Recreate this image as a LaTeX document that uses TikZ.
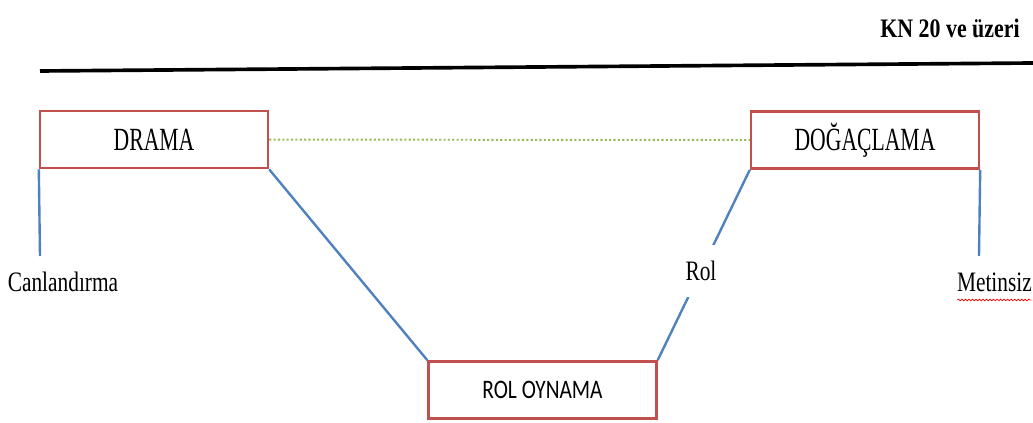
\documentclass[tikz,border=0pt]{standalone}
\usepackage{graphicx}
\usepackage{fontspec}
\setmainfont{Liberation Serif}
\newfontfamily\carlito{Carlito}
\usepackage{tikz}
\usetikzlibrary{calc}
\usetikzlibrary{decorations.pathmorphing}
\definecolor{boxred}{HTML}{C0504D}
\definecolor{linkblue}{HTML}{4F81BD}
\definecolor{dotgreen}{HTML}{9BBB59}
\newcommand{\narrow}[2][0.75]{\scalebox{#1}[1]{#2}}
\tikzset{
    concept/.style={
           rectangle,
           draw=boxred, line width=1.7pt,
           minimum width=5.7cm,
           minimum height=1.43cm,
           inner sep=2pt,
           text centered,
           },
    link/.style={draw=linkblue, line width=1.7pt},
    leaf/.style={font=\fontsize{20}{23}\selectfont, inner sep=1pt},
}

\begin{document}
\begin{tikzpicture}
\useasboundingbox (0,0) rectangle (25.825,-10.575);
\node[xshift=23.75cm, yshift=-0.72cm, font=\bfseries\fontsize{19}{22}\selectfont] (title) {\narrow[0.82]{KN 20 ve üzeri}};
\coordinate (ruleL) at (1.0,-1.775);
\coordinate (ruleR) at (25.825,-1.575);
\draw[line width=2.6pt] (ruleL) -- (ruleR);
\node[concept, xshift=3.85cm, yshift=-3.49cm, font=\fontsize{23}{26}\selectfont] (drama) {\narrow[0.67]{DRAMA}};
\node[concept, xshift=21.625cm, yshift=-3.5cm, font=\fontsize{23}{26}\selectfont] (dogac) {\narrow[0.67]{DOĞAÇLAMA}};
\node[concept, xshift=13.5625cm, yshift=-9.75cm, font=\carlito\fontsize{19}{22}\selectfont] (roloyn) {\narrow[0.8]{ROL OYNAMA}};
\node[leaf, xshift=1.575cm, yshift=-7.05cm] (canl) {\narrow[0.76]{Canlandırma}};
\node[leaf, xshift=24.86cm, yshift=-7.07cm] (metin) {\narrow[0.76]{Metinsiz}};
\coordinate (cend) at (1.0,-6.4);
\coordinate (mend) at (24.475,-6.4);
 \path (drama.east) edge[draw=dotgreen, line width=1.4pt, dash pattern=on 1.5pt off 1.6pt] (dogac.west);
 \path (drama.south west) edge[link] (cend);
 \path (dogac.south east) edge[link] (mend);
 \path (drama.south east) edge[link] (roloyn.north west);
 \path (roloyn.north east) edge[link] node[pos=0.47, fill=white, inner xsep=2pt, inner ysep=0.4cm, font=\fontsize{20}{23}\selectfont]{\narrow[0.76]{Rol}} (dogac.south west);
 \draw[red, line width=0.5pt, decorate, decoration={snake, amplitude=0.6pt, segment length=2.5pt}]
   ($(metin.base west)+(0.05,-0.2)$) -- ($(metin.base east)+(-0.05,-0.2)$);
\end{tikzpicture}
\end{document}
